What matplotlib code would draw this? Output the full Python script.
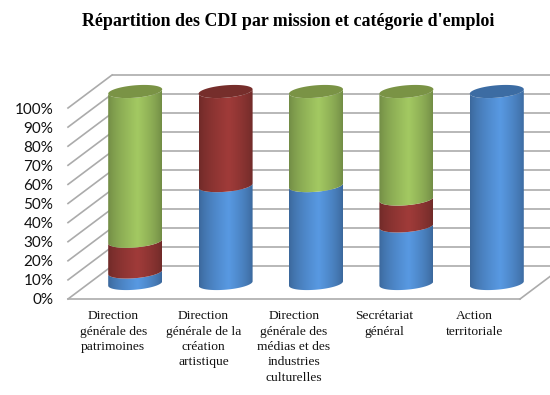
import numpy as np
from matplotlib import pyplot as plt
from matplotlib.colors import to_rgb
from matplotlib.path import Path
from matplotlib.patches import PathPatch

# --- Values
categories = ["Direction\ngénérale des\npatrimoines",
              "Direction\ngénérale de la\ncréation\nartistique",
              "Direction\ngénérale des\nmédias et des\nindustries\nculturelles",
              "Secrétariat\ngénéral",
              "Action\nterritoriale"]
blue_vals = [6, 51, 51, 30, 100]
red_vals = [16, 49, 0, 14, 0]
green_vals = [78, 0, 49, 56, 0]
y_ticks = np.arange(0, 101, 10)
y_labels = [f"{v}%" for v in y_ticks]

# --- Colours: (shade, highlight, top cap)
blue_cols = ("#3A6699", "#5899E2", "#3C6CA3")
red_cols = ("#6E2A28", "#A03B39", "#762E2B")
green_cols = ("#708A44", "#A3C962", "#7A9345")

W, H = 550, 395
fig = plt.figure(figsize=(W / 100, H / 100), dpi=100)

# front plane of the 3D box, in pixels
left, right, top, bottom = 68, 520, 108, 299
ax = fig.add_axes([left / W, 1 - bottom / H, (right - left) / W, (bottom - top) / H])
ax.patch.set_visible(False)
for s in ax.spines.values():
    s.set_visible(False)

px_x = (right - left) / 5      # pixels per category
px_y = (bottom - top) / 100    # pixels per percent
depth_x = 44 / px_x
depth_y = 33 / px_y

grid_col = "#ABABAB"

# --- Box: back wall grid, left wall grid and floor
for v in y_ticks:
    ax.plot([depth_x, 5 + depth_x], [v + depth_y, v + depth_y], color=grid_col, lw=1.2,
            clip_on=False, zorder=1, solid_capstyle="butt")
    ax.plot([0, depth_x], [v, v + depth_y], color=grid_col, lw=1.2, clip_on=False, zorder=1)
ax.plot([0, 5], [0, 0], color=grid_col, lw=1.2, clip_on=False, zorder=1)
ax.plot([5, 5 + depth_x], [0, depth_y], color=grid_col, lw=1.2, clip_on=False, zorder=1)

# --- Cylinders
half_w = 27 / px_x
half_h = 6.2 / px_y
tilt = 2.2 / px_y
base = 15.5 / px_y
height = 192 / 100 / px_y
t_front = np.linspace(np.pi, 2 * np.pi, 60)
t_all = np.linspace(0, 2 * np.pi, 120)


def ellipse(cx, cy, t):
    return cx + half_w * np.cos(t), cy + half_h * np.sin(t) + tilt * np.cos(t)


def gradient(c1, c2):
    a = np.array(to_rgb(c1))
    b = np.array(to_rgb(c2))
    s = np.linspace(0, 1, 200)
    w = np.where(s < 0.55, (s / 0.55) ** 0.7, ((1 - s) / 0.45) ** 0.7)
    return (a + (b - a) * w[:, None])[None, :, :]


for i in range(len(categories)):
    cx = i + 0.5 + depth_x / 2
    cum = 0
    for val, cols in ((blue_vals[i], blue_cols), (red_vals[i], red_cols), (green_vals[i], green_cols)):
        if val == 0:
            continue
        y0 = base + cum * height
        y1 = base + (cum + val) * height
        x_a, y_a = ellipse(cx, y0, t_front)
        x_b, y_b = ellipse(cx, y1, t_front)
        xs = np.r_[x_a, x_b[::-1], x_a[0]]
        ys = np.r_[y_a, y_b[::-1], y_a[0]]
        im = ax.imshow(gradient(cols[0], cols[1]), aspect="auto", zorder=3 + cum / 100,
                       extent=[cx - half_w, cx + half_w, y0 - 10, y1 + 10], interpolation="bilinear")
        patch = PathPatch(Path(np.c_[xs, ys]), transform=ax.transData, fc="none", ec="none")
        ax.add_patch(patch)
        patch.set_clip_on(False)
        # images get cut at the axes box otherwise, the tops stick out above 100%
        im.set_clip_path(patch)
        im.set_clip_box(fig.bbox)
        cum += val
        last = cols
    x_t, y_t = ellipse(cx, base + cum * height, t_all)
    ax.fill(x_t, y_t, color=last[2], zorder=5, clip_on=False, lw=0)

ax.set_xlim(0, 5)
ax.set_ylim(0, 100)

ax.set_yticks(y_ticks, y_labels, family="Lato", fontsize=11, color="#111111")
ax.set_xticks(np.arange(5) + 0.5, categories, family="Liberation Serif", fontsize=9.7, color="#111111",
              linespacing=1.38)
ax.tick_params(axis="both", length=0)
ax.tick_params(axis="y", pad=10.5)
ax.tick_params(axis="x", pad=8)

fig.text(288.5 / W, 1 - 22 / H, "Répartition des CDI par mission et catégorie d'emploi",
         family="Liberation Serif", fontweight="bold", fontsize=12.9, ha="center", va="center", color="black")

fig.savefig("out.png", dpi=100)
